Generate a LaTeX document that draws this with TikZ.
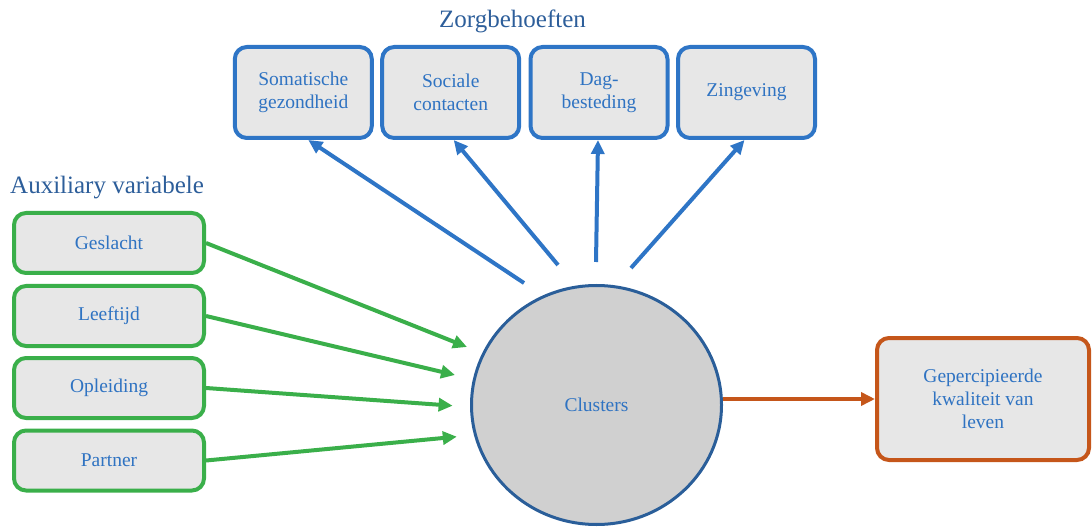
\documentclass[tikz,border=0pt]{standalone}
\usepackage{fontspec}
\setmainfont{LiberationSerif}[Extension=.ttf, UprightFont=*-Regular, BoldFont=*-Bold]
\usetikzlibrary{arrows.meta,shapes.geometric,calc}
\definecolor{bblue}{HTML}{2E75C6}
\definecolor{tblue}{HTML}{2F73C2}
\definecolor{hblue}{HTML}{2D5E9A}
\definecolor{cblue}{HTML}{2A5E99}
\definecolor{bgreen}{HTML}{3AAF4A}
\definecolor{borange}{HTML}{C5561A}
\definecolor{bfill}{HTML}{E7E7E7}
\definecolor{cfill}{HTML}{D0D0D0}
\tikzset{
  boxbase/.style={rectangle, rounded corners=12pt, line width=4pt, fill=bfill,
    text=tblue, align=center, font=\fontsize{19.5}{23}\selectfont, inner sep=0pt},
  needbox/.style={boxbase, draw=bblue, minimum width=137pt, minimum height=91pt},
  auxbox/.style={boxbase, draw=bgreen, minimum width=190pt, minimum height=60pt},
  outbox/.style={boxbase, draw=borange, minimum width=212pt, minimum height=122pt},
  clus/.style={ellipse, draw=cblue, fill=cfill, line width=3pt, minimum width=250pt,
    minimum height=239pt, text=tblue, font=\fontsize{19.5}{23}\selectfont, inner sep=0pt},
  heading/.style={text=hblue, font=\fontsize{25}{30}\selectfont, inner sep=0pt},
  barrow/.style={draw=bblue, line width=4pt, -{Triangle[length=14pt,width=13pt]}},
  garrow/.style={draw=bgreen, line width=4pt, -{Triangle[length=14pt,width=13pt]}},
  oarrow/.style={draw=borange, line width=4pt, -{Triangle[length=14pt,width=13pt]}}
}
\begin{document}
\begin{tikzpicture}[x=1pt,y=-1pt]
\useasboundingbox (0,0) rectangle (1092,529);

% headings
\node[heading, anchor=base] (h1) at (512.5,28) {Zorgbehoeften};
\node[heading, anchor=base west] (h2) at (10,194) {Auxiliary variabele};

% care needs
\node[needbox] (b1) at (303.3,92.5) {Somatische\\gezondheid};
\node[needbox] (b2) at (450.7,92.5) {Sociale\\contacten};
\node[needbox] (b3) at (599,92.5) {Dag-\\besteding};
\node[needbox] (b4) at (746.5,92.5) {Zingeving};

% auxiliary variables
\node[auxbox] (g1) at (109,243) {Geslacht};
\node[auxbox] (g2) at (109,316) {Leeftijd};
\node[auxbox] (g3) at (109,388) {Opleiding};
\node[auxbox] (g4) at (109,460.5) {Partner};

% clusters
\node[clus] (cl) at (596.5,405) {Clusters};

% outcome
\node[outbox] (q) at (983,399) {Gepercipieerde\\kwaliteit van\\leven};

% free ends
\coordinate (s1) at (524,283);
\coordinate (s2) at (558,265);
\coordinate (s3) at (596,262);
\coordinate (s4) at (631,268);
\coordinate (e1) at (467,347);
\coordinate (e2) at (455,375);
\coordinate (e3) at (452.6,405.7);
\coordinate (e4) at (456.8,436.7);

% arrows to care needs
\draw[barrow] (s1) -- ([xshift=5pt]b1.south);
\draw[barrow] (s2) -- ([xshift=3pt]b2.south);
\draw[barrow] (s3) -- ([xshift=-1pt]b3.south);
\draw[barrow] (s4) -- ([xshift=-2pt]b4.south);

% arrows from auxiliary variables
\draw[garrow] (g1.east) -- (e1);
\draw[garrow] (g2.east) -- (e2);
\draw[garrow] (g3.east) -- (e3);
\draw[garrow] (g4.east) -- (e4);

% arrow to outcome
\draw[oarrow] (cl.east |- q.west) -- (q.west);
\end{tikzpicture}
\end{document}
